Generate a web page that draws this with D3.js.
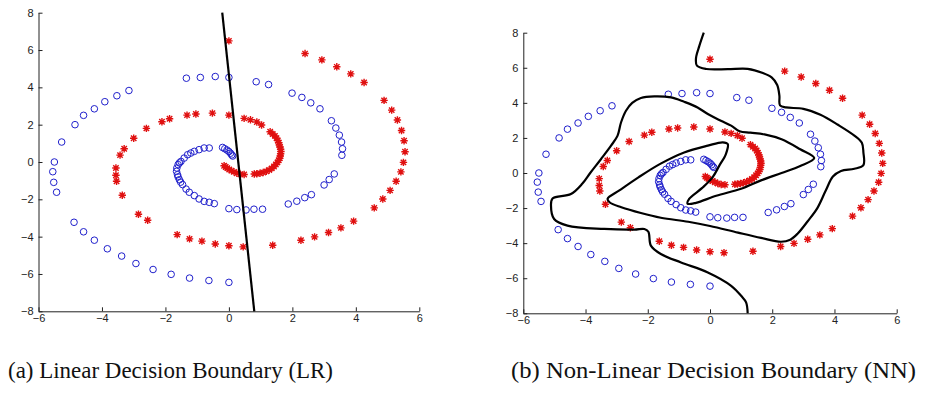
<!DOCTYPE html>
<html>
<head>
<meta charset="utf-8">
<script src="https://cdn.jsdelivr.net/npm/d3@7"></script>
<style>
  body { margin: 0; background: #fff; }
  svg { display: block; }
  .tick text { font-family: "Liberation Sans", Arial, sans-serif; font-size: 11px; fill: #222; }
  .caption { font-family: "Liberation Serif", "DejaVu Serif", serif; font-size: 24px; fill: #111; }
</style>
</head>
<body>
<svg id="chart" width="931" height="393"></svg>
<script>
// tick values (same for both panels)
const xTicks = [-6, -4, -2, 0, 2, 4, 6]
const yTicks = [-8, -6, -4, -2, 0, 2, 4, 6, 8]

// class 1: red stars (x, y)
const redStars = [
  [0, 6.49], [2.40, 5.81], [2.93, 5.47], [3.40, 5.10], [3.84, 4.72], [4.26, 4.26],
  [4.89, 3.30], [5.13, 2.78], [5.31, 2.25], [5.44, 1.69], [5.52, 1.14], [5.55, 0.55],
  [5.50, -0.02], [5.42, -0.53], [5.27, -1.03], [5.08, -1.52], [4.85, -1.98], [4.58, -2.46],
  [3.93, -3.17], [3.53, -3.53], [3.14, -3.78], [2.70, -4.01], [2.27, -4.19], [1.38, -4.46],
  [0.45, -4.55], [0, -4.49], [-0.43, -4.39], [-0.85, -4.24], [-1.24, -4.12], [-1.63, -3.89],
  [-2.56, -3.12], [-2.85, -2.80], [-3.36, -1.78], [-3.54, -1.03], [-3.56, -0.71], [-3.56, -0.32],
  [-3.43, 0.37], [-3.30, 0.71], [-3.00, 1.27], [-2.60, 1.80], [-2.11, 2.16], [-1.87, 2.32],
  [-1.32, 2.51], [-1.04, 2.57], [-0.52, 2.62], [0, 2.51], [0.48, 2.34], [0.68, 2.26],
  [0.88, 2.14], [1.03, 1.98], [1.30, 1.62],
  [1.38, 1.50], [1.45, 1.40], [1.50, 1.28], [1.54, 1.15], [1.57, 1.03], [1.59, 0.92],
  [1.61, 0.80], [1.63, 0.68], [1.64, 0.56], [1.63, 0.44], [1.62, 0.32], [1.60, 0.20],
  [1.57, 0.09], [1.53, -0.02], [1.48, -0.13], [1.42, -0.24], [1.35, -0.34], [1.27, -0.43],
  [1.18, -0.50], [1.08, -0.56], [0.98, -0.60], [0.88, -0.63], [0.80, -0.64],
  [0.48, -0.67], [0.36, -0.66], [0.25, -0.60], [0.16, -0.53], [0.08, -0.46], [0.01, -0.40],
  [-0.05, -0.33], [-0.10, -0.27], [-0.15, -0.20]
]

// class 2: blue circles (x, y)
const blueCircles = [
  [0, -6.45], [-0.63, -6.35], [-1.24, -6.22], [-1.82, -6.02], [-2.39, -5.76], [-2.93, -5.44],
  [-3.38, -5.04], [-3.83, -4.65], [-4.24, -4.19], [-4.58, -3.74], [-4.88, -3.23], [-5.43, -1.62],
  [-5.52, -1.09], [-5.55, -0.52], [-5.50, 0.0], [-5.27, 1.07], [-4.85, 2.00], [-4.58, 2.50],
  [-4.24, 2.85], [-3.91, 3.23], [-3.53, 3.55], [-3.15, 3.83], [-1.34, 4.49], [-0.90, 4.53],
  [-0.43, 4.58], [0, 4.53], [0.86, 4.30], [1.25, 4.15], [1.99, 3.69], [2.30, 3.46],
  [2.58, 3.17], [2.87, 2.85], [3.23, 2.21], [3.37, 1.82], [3.48, 1.44], [3.55, 1.07],
  [3.58, 0.71], [3.56, 0.36], [3.32, -0.64], [3.16, -0.94], [3.00, -1.23], [2.60, -1.75],
  [2.39, -1.91], [2.14, -2.10], [1.87, -2.25], [1.06, -2.53], [0.79, -2.53], [0.54, -2.57],
  [0.25, -2.55], [0, -2.50],
  [-0.46, -2.23], [-0.62, -2.16], [-0.78, -2.11], [-0.94, -1.98], [-1.09, -1.80], [-1.25, -1.62],
  [-1.35, -1.45], [-1.46, -1.21], [-1.52, -1.08], [-1.56, -0.95], [-1.60, -0.80], [-1.62, -0.68],
  [-1.65, -0.50], [-1.64, -0.32], [-1.60, -0.14], [-1.56, -0.05], [-1.51, 0.03], [-1.41, 0.21],
  [-1.30, 0.39], [-1.20, 0.48], [-1.09, 0.57], [-0.94, 0.66], [-0.78, 0.75], [-0.62, 0.75],
  [-0.20, 0.78], [-0.13, 0.71], [-0.06, 0.64], [0.0, 0.56], [0.05, 0.47], [0.09, 0.38], [0.12, 0.32]
]

// (a) logistic regression boundary
const lrBoundary = [[-0.21, 8.0], [0.80, -8.0]]

// (b) neural net boundary, traced from top edge to bottom edge
const nnBoundary = [
  [-0.20, 8.0], [-0.34, 7.26], [-0.45, 6.55], [-0.42, 6.12], [-0.12, 5.93], [0.57, 5.92],
  [1.21, 5.94], [1.70, 5.70], [1.98, 5.45], [2.16, 5.02], [2.23, 4.41], [2.25, 3.86],
  [2.44, 3.74], [3.0, 3.66], [3.55, 3.32], [4.11, 2.75], [4.64, 2.13], [4.88, 1.72],
  [4.93, 1.17], [4.93, 0.45], [4.64, 0.24], [4.21, 0.12], [3.95, -0.2], [3.72, -1.0],
  [3.45, -2.0], [3.14, -2.75], [2.82, -3.45], [2.58, -3.80], [2.28, -3.92], [1.64, -3.70],
  [0.9, -3.40], [0.0, -3.02], [-0.7, -2.78], [-1.58, -2.55], [-2.22, -2.28], [-2.85, -1.95],
  [-3.22, -1.68], [-3.29, -1.47], [-2.9, -0.98], [-2.3, -0.25], [-1.6, 0.52], [-0.83, 1.17],
  [-0.07, 1.56], [0.41, 1.75], [0.57, 1.65], [0.51, 1.08], [0.30, 0.42], [0.08, -0.25],
  [-0.25, -0.85], [-0.67, -1.48], [-0.72, -1.75], [-0.45, -1.70], [0.2, -1.30], [1.0, -0.90],
  [1.64, -0.42], [2.3, 0.0], [2.9, 0.40], [3.35, 0.85], [2.9, 1.35], [2.3, 1.92],
  [1.75, 2.20], [1.3, 2.30], [0.95, 2.38], [0.68, 2.70], [0.35, 2.98], [-0.07, 3.36],
  [-0.40, 3.74], [-0.83, 4.06], [-1.25, 4.31], [-1.79, 4.37], [-2.22, 4.28], [-2.5, 4.0],
  [-2.7, 3.55], [-2.86, 2.88], [-2.97, 2.13], [-3.18, 1.56], [-3.5, 0.8], [-3.85, 0.0],
  [-4.1, -0.6], [-4.47, -1.2], [-5.06, -1.45], [-5.11, -1.86], [-5.01, -2.62], [-4.58, -3.00],
  [-3.40, -3.19], [-2.43, -3.23], [-2.11, -3.19], [-1.98, -3.35], [-1.90, -4.14], [-1.58, -4.62],
  [-0.93, -5.10], [-0.07, -5.67], [0.68, -6.43], [1.0, -7.0], [1.16, -7.38], [1.21, -8.0]
]

const captions = ['(a) Linear Decision Boundary (LR)', '(b) Non-Linear Decision Boundary (NN)']

const svg = d3.select('#chart')

const panels = [
  { left: 38.5, right: 419.3, top: 12.7, bottom: 311.3, boundary: lrBoundary, curve: d3.curveLinear,
    caption: captions[0], capX: 8, capW: 325 },
  { left: 523.3, right: 896.7, top: 32.7, bottom: 313.3, boundary: nnBoundary, curve: d3.curveCatmullRom.alpha(0.5),
    caption: captions[1], capX: 511, capW: 405 }
]

// MATLAB '*' marker
const starPath = 'M-3.7,0H3.7M0,-3.7V3.7M-2.7,-2.7L2.7,2.7M-2.7,2.7L2.7,-2.7'

panels.forEach(p => {
  const x = d3.scaleLinear().domain([-6, 6]).range([p.left, p.right])
  const y = d3.scaleLinear().domain([-8, 8]).range([p.bottom, p.top])

  const g = svg.append('g')

  const xAxisG = g.append('g')
    .attr('transform', `translate(0,${p.bottom})`)
    .call(d3.axisBottom(x).tickValues(xTicks).tickSizeInner(-4).tickSizeOuter(0).tickPadding(3))
  xAxisG.select('.domain').attr('stroke', '#222')
  xAxisG.selectAll('.tick line').attr('stroke', '#222')

  const yAxisG = g.append('g')
    .attr('transform', `translate(${p.left},0)`)
    .call(d3.axisLeft(y).tickValues(yTicks).tickSizeInner(-4).tickSizeOuter(0).tickPadding(5))
  yAxisG.select('.domain').attr('stroke', '#222')
  yAxisG.selectAll('.tick line').attr('stroke', '#222')

  // blue circles
  g.selectAll('circle.blue').data(blueCircles)
    .enter().append('circle')
    .attr('class', 'blue')
    .attr('cx', d => x(d[0]))
    .attr('cy', d => y(d[1]))
    .attr('r', 3.3)
    .attr('fill', 'none')
    .attr('stroke', '#2020cc')
    .attr('stroke-width', 1)

  // red stars
  g.selectAll('path.red').data(redStars)
    .enter().append('path')
    .attr('class', 'red')
    .attr('d', starPath)
    .attr('transform', d => `translate(${x(d[0])},${y(d[1])})`)
    .attr('stroke', '#e01010')
    .attr('stroke-width', 1.4)
    .attr('fill', 'none')

  // decision boundary
  const line = d3.line().x(d => x(d[0])).y(d => y(d[1])).curve(p.curve)
  g.append('path')
    .datum(p.boundary)
    .attr('d', line)
    .attr('fill', 'none')
    .attr('stroke', '#000')
    .attr('stroke-width', 2.2)
    .attr('stroke-linejoin', 'round')

  svg.append('text')
    .attr('class', 'caption')
    .attr('x', p.capX)
    .attr('y', 378)
    .attr('textLength', p.capW)
    .attr('lengthAdjust', 'spacingAndGlyphs')
    .text(p.caption)
})
</script>
</body>
</html>
